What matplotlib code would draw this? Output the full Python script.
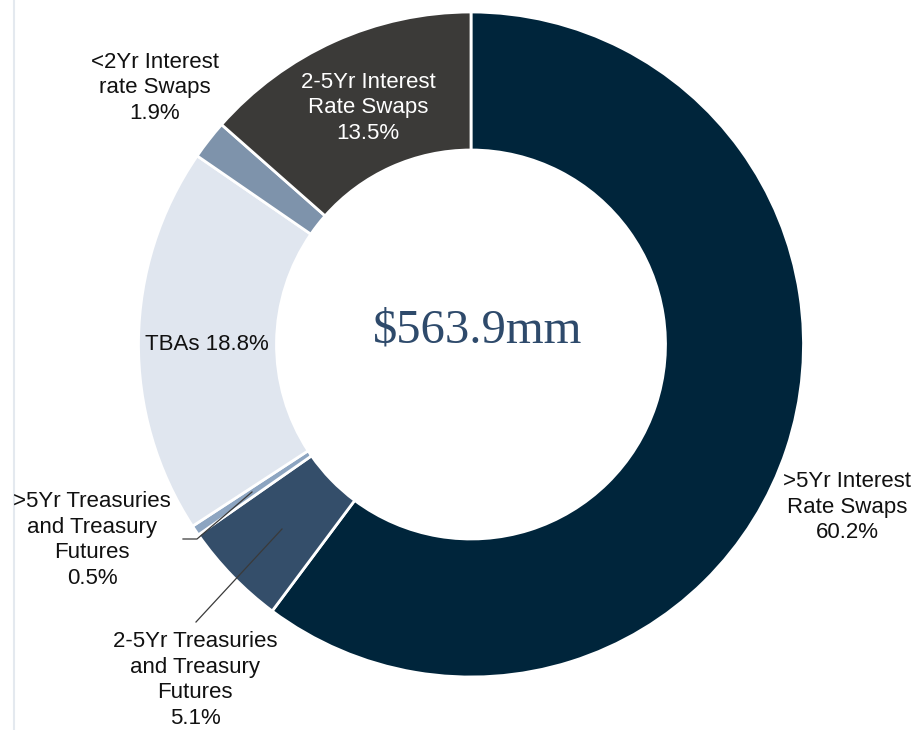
import matplotlib
matplotlib.use("Agg")
from matplotlib import pyplot as plt

# slices, clockwise from 12 o'clock
labels = [
    ">5Yr Interest\nRate Swaps",
    "2-5Yr Treasuries\nand Treasury\nFutures",
    ">5Yr Treasuries\nand Treasury\nFutures",
    "TBAs",
    "<2Yr Interest\nrate Swaps",
    "2-5Yr Interest\nRate Swaps",
]
shares = [60.2, 5.1, 0.5, 18.8, 1.9, 13.5]
colors = ["#00253b", "#344e6a", "#8da5c1", "#e0e6ef", "#7e93ab", "#3b3a38"]
total_label = "$563.9mm"

W, H = 919, 730
fig = plt.figure(figsize=(W / 100, H / 100), dpi=100)
ax = fig.add_axes([0, 0, 1, 1])

cx, cy, radius = 471, 344.5, 332.5
# y axis is flipped below, so counterclockwise in data is clockwise on screen
ax.pie(
    shares,
    colors=colors,
    startangle=-90,
    counterclock=True,
    center=(cx, cy),
    radius=radius,
    wedgeprops=dict(width=138, edgecolor="white", linewidth=2),
)
ax.set_xlim(0, W)
ax.set_ylim(H, 0)
ax.set_aspect("auto")
ax.axis("off")

# faint frame line on the left
ax.plot([14, 14], [0, H], color="#e4e9ef", lw=1.5, zorder=0)

sans = ["Liberation Sans", "DejaVu Sans"]
fs = 16

# label positions (pixel coords), text colour
label_pos = [
    (847, 507, "#111111"),
    (195, 680, "#111111"),
    (92, 540, "#111111"),
    (207, 345, "#111111"),
    (155, 88, "#111111"),
    (368, 108, "white"),
]
for name, val, (x, y, c) in zip(labels, shares, label_pos):
    if name == "TBAs":
        txt = f"{name} {val:.1f}%"
    else:
        txt = f"{name}\n{val:.1f}%"
    ax.text(x, y, txt, ha="center", va="center", fontsize=fs,
            family=sans, color=c, linespacing=1.29, zorder=5)

# leader lines for the two thin slices
lc = "#3a3a3a"
ax.plot([183, 197, 252], [539, 539, 492], color=lc, lw=0.9, zorder=6)
ax.plot([196, 282], [622, 529], color=lc, lw=0.9, zorder=6)

ax.text(478, 330, total_label, ha="center", va="center", fontsize=35,
        family=["Liberation Serif", "DejaVu Serif"], color="#2e4a6b")

fig.savefig("out.png", dpi=100)
